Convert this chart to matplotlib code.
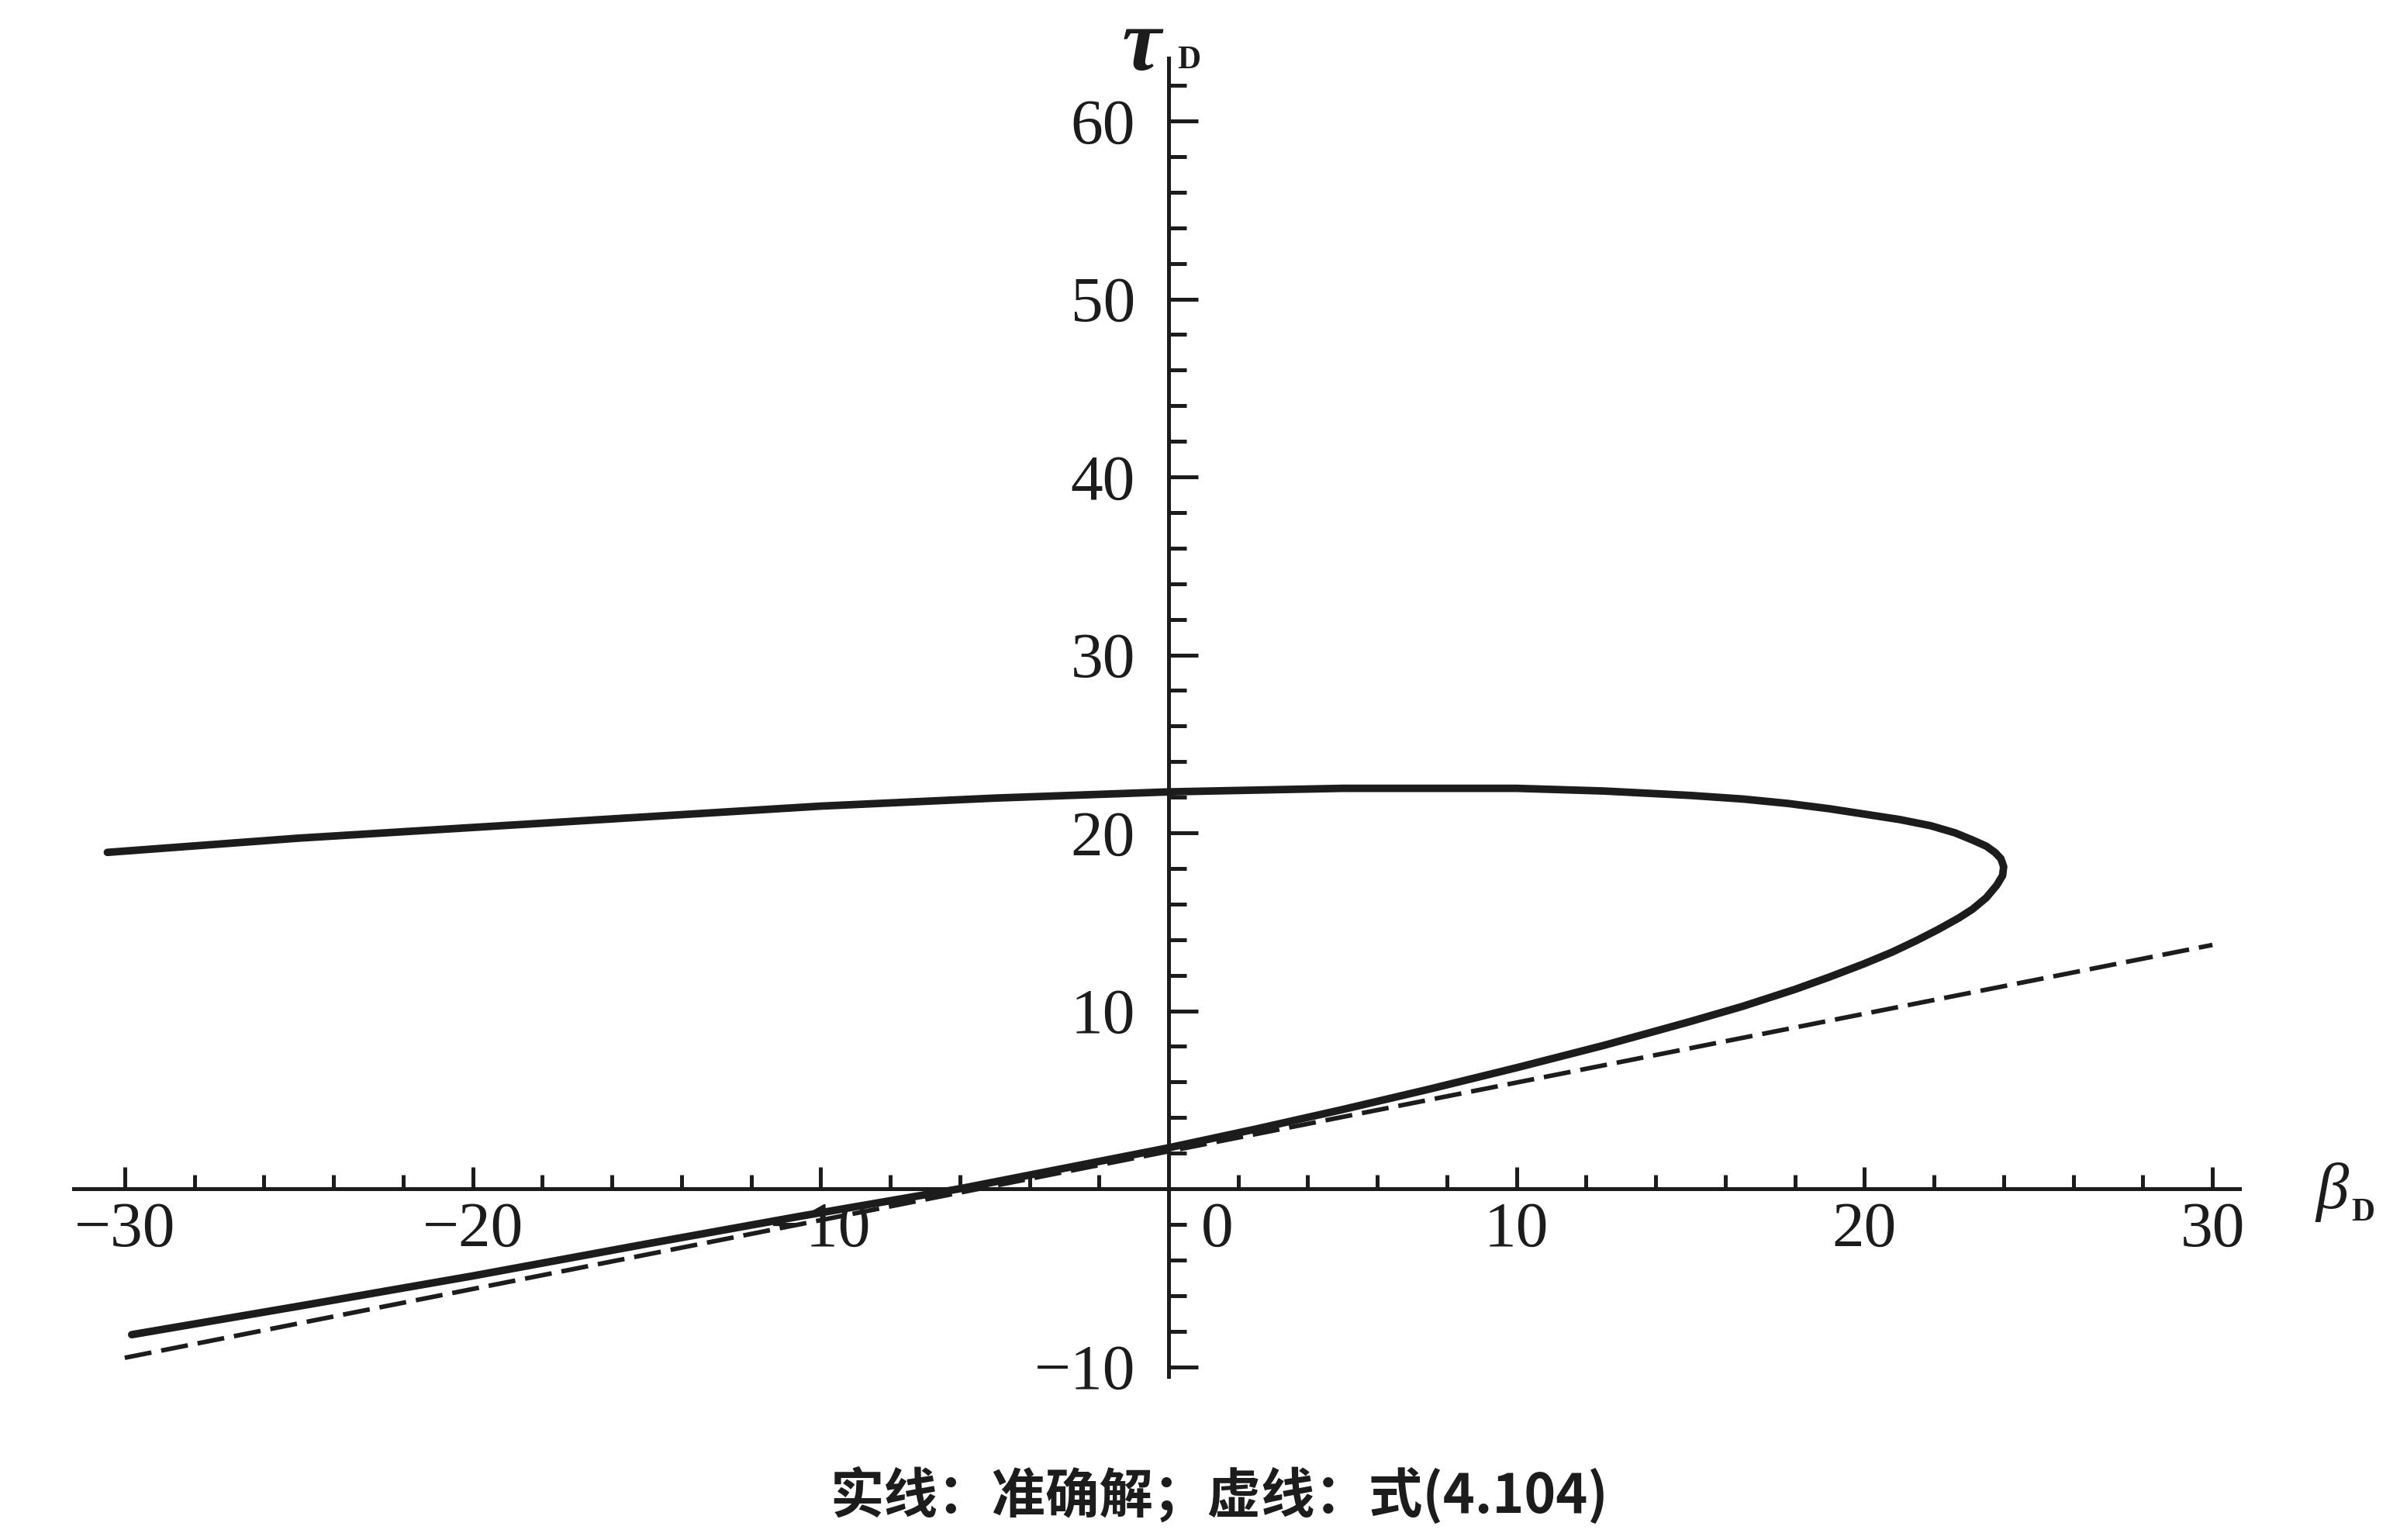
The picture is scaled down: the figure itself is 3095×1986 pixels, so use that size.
import matplotlib
matplotlib.use('Agg')
import matplotlib.pyplot as plt
from matplotlib.ticker import FixedLocator, FixedFormatter, NullFormatter

# ---- data ----
upper_beta = [-30.5, -25, -20, -15, -10, -5, 0, 5, 10, 12.5, 15, 16.5, 17.8, 19, 20, 21,
              21.9, 22.6, 23.1, 23.5, 23.75, 23.92, 24.0]
upper_tau = [18.9, 19.7, 20.3, 20.9, 21.5, 21.95, 22.3, 22.5, 22.5, 22.35, 22.1, 21.9, 21.65,
             21.35, 21.05, 20.75, 20.4, 20.0, 19.6, 19.25, 18.9, 18.55, 18.1]
lower_beta = [23.97, 23.8, 23.5, 23.1, 22.7, 22.1, 21.5, 20.8, 20, 19, 18, 16.5, 15, 12.5,
              10, 7.5, 5, 2.5, 0, -3, -6, -10.6, -15, -20, -25, -29.8]
lower_tau = [17.6, 17.05, 16.35, 15.7, 15.2, 14.55, 13.95, 13.3, 12.65, 11.9, 11.2, 10.25,
             9.4, 8.05, 6.8, 5.6, 4.45, 3.35, 2.3, 1.15, 0.0, -1.55, -3.1, -4.9, -6.6, -8.2]
dashed_beta = [-30, 30]
dashed_tau = [-9.5, 13.7]

x_major = [-30, -20, -10, 10, 20, 30]
x_major_labels = ['\u221230', '\u221220', '\u221210', '10', '20', '30']
x_minor = [v for v in range(-30, 31, 2) if v % 10 != 0]
y_major = [-10, 10, 20, 30, 40, 50, 60]
y_major_labels = ['\u221210', '10', '20', '30', '40', '50', '60']
y_minor = [v for v in range(-8, 63, 2) if v % 10 != 0]
zero_label = '0'
caption = '实线：准确解；虚线：式(4.104)'

plt.rcParams['mathtext.fontset'] = 'custom'
plt.rcParams['mathtext.it'] = 'Liberation Serif:italic:bold'
plt.rcParams['mathtext.rm'] = 'Liberation Serif:bold'

ink = '#1c1c1c'
W, H = 3095, 1986
fig = plt.figure(figsize=(W / 100, H / 100), dpi=100)
fig.patch.set_facecolor('white')

# pixel geometry of the plotting frame
zero_x, sx = 1507.0, 44.87
zero_y, sy = 1533.0, 22.95
x0, x1 = 95, 2888
ytop, ybot = 75, 1775
ax = fig.add_axes([x0 / W, 1 - ybot / H, (x1 - x0) / W, (ybot - ytop) / H])
ax.set_xlim((x0 - zero_x) / sx, (x1 - zero_x) / sx)
ax.set_ylim((zero_y - ybot) / sy, (zero_y - ytop) / sy)
ax.patch.set_alpha(0)

for s in ['top', 'right']:
    ax.spines[s].set_visible(False)
ax.spines['left'].set_position(('data', 0))
ax.spines['bottom'].set_position(('data', 0))
for s in ['left', 'bottom']:
    ax.spines[s].set_linewidth(3.6)
    ax.spines[s].set_color(ink)

# curves
ax.plot(upper_beta + lower_beta, upper_tau + lower_tau, color=ink, lw=7,
        solid_joinstyle='round', solid_capstyle='round', zorder=3)
ax.plot(dashed_beta, dashed_tau, color=ink, lw=4.2, linestyle=(0, (6, 2.2)), zorder=2)

# ticks
serif = 'Liberation Serif'
ax.xaxis.set_major_locator(FixedLocator(x_major))
ax.xaxis.set_major_formatter(FixedFormatter(x_major_labels))
ax.xaxis.set_minor_locator(FixedLocator(x_minor))
ax.xaxis.set_minor_formatter(NullFormatter())
ax.yaxis.set_major_locator(FixedLocator(y_major))
ax.yaxis.set_major_formatter(FixedFormatter(y_major_labels))
ax.yaxis.set_minor_locator(FixedLocator(y_minor))
ax.yaxis.set_minor_formatter(NullFormatter())

ax.tick_params(axis='x', which='major', direction='in', length=20, width=3.6, color=ink,
               pad=12, labelsize=60, labelcolor=ink)
ax.tick_params(axis='x', which='minor', direction='in', length=13, width=3.6, color=ink)
ax.tick_params(axis='y', which='major', direction='in', length=27, width=3.6, color=ink,
               pad=31, labelsize=60, labelcolor=ink)
ax.tick_params(axis='y', which='minor', direction='in', length=16.5, width=3.6, color=ink)
for lab in ax.get_xticklabels() + ax.get_yticklabels():
    lab.set_fontfamily(serif)

ax.annotate(zero_label, xy=(1.4, 0), xycoords='data', xytext=(0, -12), textcoords='offset points',
            ha='center', va='top', fontsize=60, family=serif, color=ink)

# axis labels
fig.text(1474 / W, 1 - 3 / H, r'$\tau$', fontsize=82, color=ink, ha='center', va='top')
fig.text(1518 / W, 1 - 88 / H, 'D', fontsize=30, family=serif, weight='bold',
         color=ink, ha='left', va='baseline')
fig.text(3007 / W, 1 - 1537 / H, '\u03b2', fontsize=61, family=serif, style='italic',
         color=ink, ha='center', va='center')
fig.text(3032 / W, 1 - 1574 / H, 'D', fontsize=30, family=serif, weight='bold',
         color=ink, ha='left', va='baseline')

# caption
fig.text(1572 / W, 1 - 1929 / H, caption, fontsize=50,
         family=['Noto Sans CJK SC', 'DejaVu Sans'], weight='bold', color=ink,
         ha='center', va='center')

fig.savefig('out.png', dpi=100, facecolor='white')
